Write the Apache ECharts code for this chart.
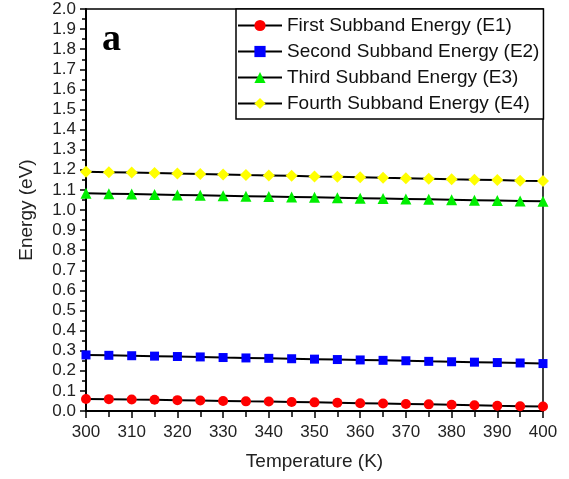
<!DOCTYPE html>
<html><head><meta charset="utf-8">
<script src="https://cdn.jsdelivr.net/npm/echarts@6/dist/echarts.min.js"></script>
<style>html,body{margin:0;padding:0;background:#fff}#c{width:569px;height:479px}</style>
</head><body><div id="c"></div>
<script>
var temps = [300,305,310,315,320,325,330,335,340,345,350,355,360,365,370,375,380,385,390,395,400];
var e1 = [0.060,0.059,0.057,0.056,0.054,0.052,0.050,0.048,0.047,0.045,0.043,0.041,0.039,0.037,0.035,0.033,0.031,0.029,0.026,0.024,0.022];
var e2 = [0.279,0.277,0.275,0.273,0.271,0.269,0.266,0.264,0.262,0.260,0.258,0.256,0.254,0.252,0.250,0.247,0.245,0.243,0.241,0.239,0.236];
var e3 = [1.083,1.081,1.079,1.077,1.075,1.073,1.071,1.069,1.067,1.065,1.063,1.061,1.059,1.057,1.055,1.053,1.051,1.049,1.047,1.045,1.043];
var e4 = [1.190,1.188,1.186,1.184,1.181,1.179,1.177,1.174,1.172,1.170,1.167,1.165,1.163,1.160,1.158,1.156,1.153,1.151,1.149,1.146,1.144];
var names = ['First Subband Energy (E1)','Second Subband Energy (E2)','Third Subband Energy (E3)','Fourth Subband Energy (E4)'];
var colors = ['#ff0000','#0000ff','#00ee00','#ffff00'];
var symbols = ['circle','rect','triangle','diamond'];
var sizes = [10,9,11,12];
var all = [e1,e2,e3,e4];
function pairs(a){return temps.map(function(t,i){return [t,a[i]];});}
var chart = echarts.init(document.getElementById('c'));
var font = 'Liberation Sans, Arial, sans-serif';
chart.setOption({
  animation:false,
  grid:{left:86,right:26,top:9,bottom:68,show:true,borderColor:'#000',borderWidth:1.5,backgroundColor:'transparent'},
  xAxis:{type:'value',min:300,max:400,interval:10,
    name:'Temperature (K)',nameLocation:'middle',nameGap:41,
    nameTextStyle:{fontFamily:font,fontSize:19,color:'#222'},
    axisLine:{lineStyle:{color:'#000',width:2}},
    axisTick:{show:true,length:7,lineStyle:{color:'#000',width:1.5}},
    minorTick:{show:true,splitNumber:2,length:6,lineStyle:{color:'#000',width:1.5}},
    axisLabel:{fontFamily:font,fontSize:17,color:'#222',margin:13},
    splitLine:{show:false}},
  yAxis:{type:'value',min:0,max:2,interval:0.1,
    name:'Energy (eV)',nameLocation:'middle',nameGap:50,
    nameTextStyle:{fontFamily:font,fontSize:19,color:'#222'},
    axisLine:{show:true,lineStyle:{color:'#000',width:2}},
    axisTick:{show:true,length:6,lineStyle:{color:'#000',width:1.5}},
    minorTick:{show:true,splitNumber:2,length:4,lineStyle:{color:'#000',width:1.5}},
    axisLabel:{fontFamily:font,fontSize:17,color:'#222',margin:10,formatter:function(v){return v.toFixed(1);}},
    splitLine:{show:false}},
  legend:{show:true,orient:'vertical',left:236,top:9,width:306,
    backgroundColor:'#fff',borderColor:'#000',borderWidth:1.5,
    padding:[7,4,6,1],itemGap:7,itemWidth:44,itemHeight:14,
    textStyle:{fontFamily:font,fontSize:19,color:'#111'},
    data:names},
  graphic:[{type:'text',left:102,top:21,style:{text:'a',font:'bold 38px "Liberation Serif", "Times New Roman", serif',fill:'#000'}}],
  series: all.map(function(a,i){return {
    name:names[i],type:'line',data:pairs(a),
    symbol:symbols[i],symbolSize:sizes[i],showSymbol:true,
    lineStyle:{color:'#000',width:2},
    itemStyle:{color:colors[i],borderWidth:0},
    z:2};})
});
</script></body></html>
